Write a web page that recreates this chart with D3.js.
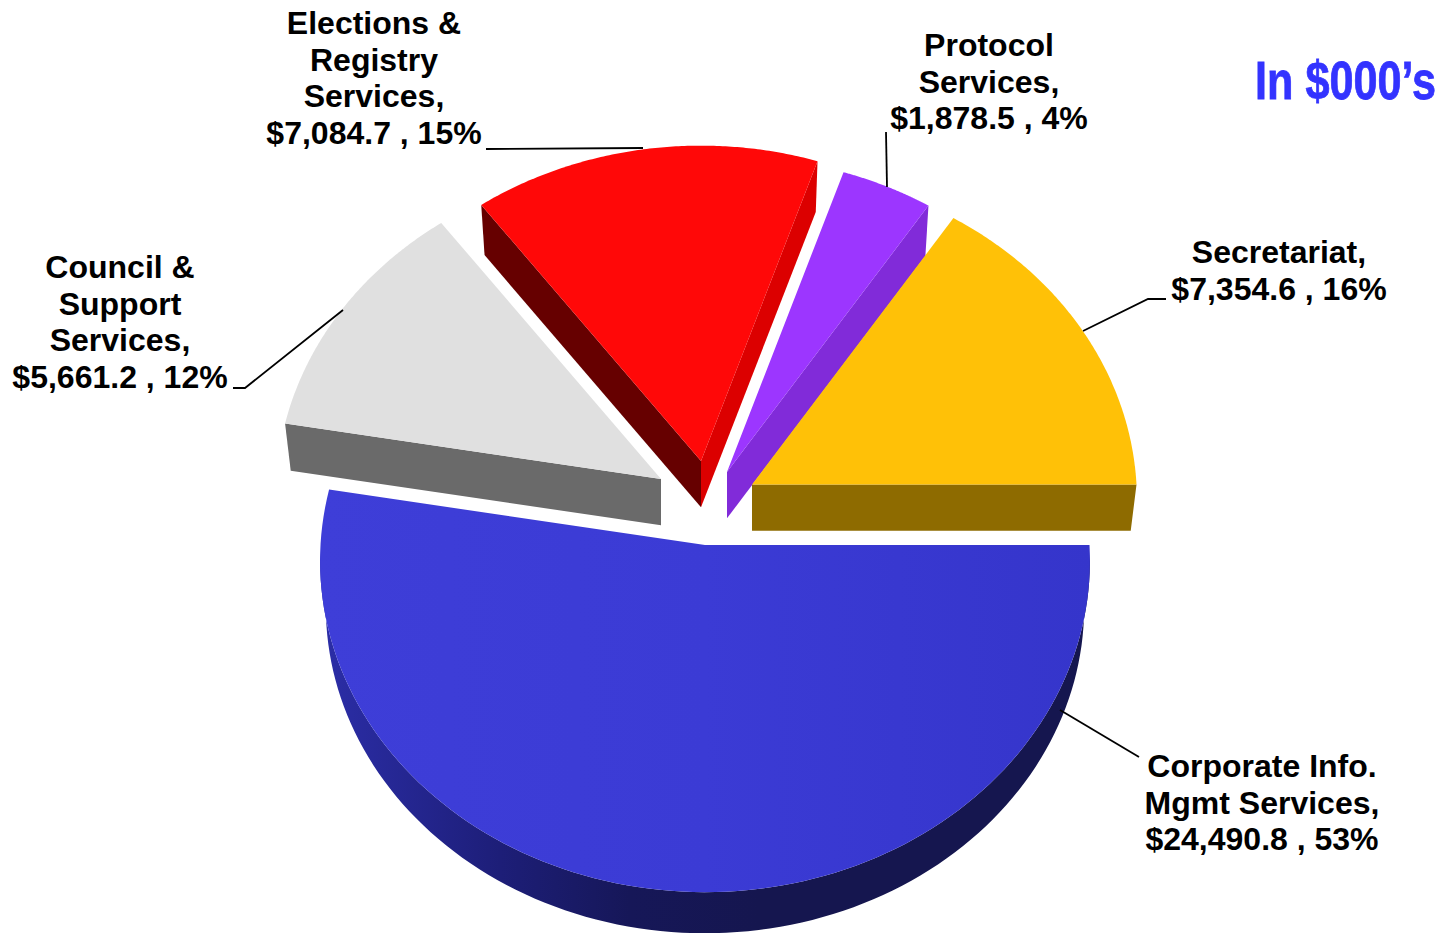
<!DOCTYPE html>
<html>
<head>
<meta charset="utf-8">
<title>Budget by service, in $000's</title>
<script src="https://cdnjs.cloudflare.com/ajax/libs/d3/7.8.5/d3.min.js"></script>
<style>
  html, body { margin: 0; padding: 0; background: #fff; overflow: hidden; }
  svg { display: block; }
  text { font-family: "Liberation Sans", Arial, sans-serif; font-weight: bold; }
</style>
</head>
<body>
<svg id="chart" width="1444" height="933"></svg>
<script>
// Budget per service, clockwise from three o'clock.
const categories = ["Corporate Info. Mgmt Services", "Council & Support Services",
  "Elections & Registry Services", "Protocol Services", "Secretariat"];
const amounts = [24490.8, 5661.2, 7084.7, 1878.5, 7354.6];
const labelLines = [
  ["Corporate Info.", "Mgmt Services,"],
  ["Council &", "Support", "Services,"],
  ["Elections &", "Registry", "Services,"],
  ["Protocol", "Services,"],
  ["Secretariat,"]
];
const unitNote = "In $000\u2019s";

// Exploded apex of each wedge on the page.
const apexes = [[705, 545], [661, 479], [701, 461], [727, 472], [752, 484.5]];
const topFills = ["url(#corpTop)", "#e0e0e0", "#ff0808", "#9c36ff", "#ffc107"];
const wallFills = ["url(#corpWall)", "#6a6a6a", "#dc0000", "#812bd9", "#8e6b00"];
// d3.pie runs clockwise, so a wedge's start is its counter-clockwise-most cut.
const startFaces = [null, "#6a6a6a", "#660000", null, null];
const endFaces = [null, null, "#dc0000", "#812bd9", "#8e6b00"];

// Label anchors: centre x, first baseline.
const labelAt = [[1262, 777], [120, 278], [374, 34], [989, 56], [1279, 263]];
const lineStep = 36.6;
const leaders = [
  [[1060, 710], [1139, 757]],
  [[233, 388], [245, 388], [343, 310]],
  [[486, 149], [643, 148]],
  [[886, 132], [887, 187]],
  [[1166, 299], [1148, 299], [1083, 331]]
];

// Perspective model of the tilted disc.
const radiusX = 384.5, radiusY = 330.5, perspective = 0.048;
const thickness = 46.3, baseShrink = 0.985;

const svg = d3.select("#chart");
const defs = svg.append("defs");

function linear(id, x1, x2, stops) {
  const g = defs.append("linearGradient").attr("id", id)
    .attr("gradientUnits", "userSpaceOnUse")
    .attr("x1", x1).attr("x2", x2).attr("y1", 0).attr("y2", 0);
  stops.forEach(([o, c]) => g.append("stop").attr("offset", o).attr("stop-color", c));
}
linear("corpTop", 319, 1091, [[0, "#3e3ed8"], [0.5, "#3b3bd5"], [1, "#3535cb"]]);
linear("corpWall", 327, 760, [[0, "#2b2da6"], [0.4, "#1d1e78"], [0.7, "#161758"], [1, "#15164f"]]);

const arcs = d3.pie().sort(null).value(d => d)
  .startAngle(Math.PI / 2).endAngle(Math.PI / 2 + 2 * Math.PI)(amounts);

// Map a polar position on a wedge to page coordinates.
function project(apex, angle, r, low) {
  const u = r * Math.sin(angle), v = r * Math.cos(angle);
  const w = 1 + perspective * v;
  const s = low ? baseShrink : 1;
  return [apex[0] + radiusX * s * u / w,
          apex[1] - radiusY * s * v / w + (low ? thickness : 0)];
}

const path = d3.line();
const arcSteps = (a0, a1) => d3.range(0, 121).map(i => a0 + (a1 - a0) * i / 120);

const slices = svg.append("g").selectAll("g").data(arcs).join("g");

slices.each(function (d, i) {
  const g = d3.select(this), apex = apexes[i];
  const angles = arcSteps(d.startAngle, d.endAngle);

  // Rim: only the stretch of the arc that faces the viewer.
  const frontAngles = angles.filter(a => Math.cos(a) <= 0);
  if (frontAngles.length > 1) {
    const rim = frontAngles.map(a => project(apex, a, 1, false))
      .concat(frontAngles.slice().reverse().map(a => project(apex, a, 1, true)));
    g.append("path").attr("d", path(rim) + "Z").attr("fill", wallFills[i]);
  }

  // Straight cut faces of the wedge.
  [[startFaces[i], d.startAngle], [endFaces[i], d.endAngle]].forEach(([fill, a]) => {
    if (!fill) return;
    const face = [project(apex, a, 0, false), project(apex, a, 1, false),
                  project(apex, a, 1, true), project(apex, a, 0, true)];
    g.append("path").attr("d", path(face) + "Z").attr("fill", fill);
  });

  // Top surface.
  const top = [apex].concat(angles.map(a => project(apex, a, 1, false)));
  g.append("path").attr("d", path(top) + "Z").attr("fill", topFills[i]);
});

// Leader lines.
svg.append("g").selectAll("path").data(leaders).join("path")
  .attr("d", d => path(d)).attr("fill", "none")
  .attr("stroke", "#000").attr("stroke-width", 1.8);

// Labels: name lines, then the amount and its share.
const total = d3.sum(amounts);
const money = d3.format(",.1f"), share = d3.format(".0%");
const labels = svg.append("g").selectAll("text").data(arcs).join("text")
  .attr("text-anchor", "middle").attr("font-size", 32).attr("fill", "#000");
labels.each(function (d, i) {
  const lines = labelLines[i].concat(`$${money(amounts[i])} , ${share(amounts[i] / total)}`);
  d3.select(this).selectAll("tspan").data(lines).join("tspan")
    .attr("x", labelAt[i][0])
    .attr("y", (_, k) => labelAt[i][1] + k * lineStep)
    .text(t => t);
});

// Unit note, condensed horizontally to sit in the top corner.
const note = svg.append("text").attr("font-size", 53.5).attr("fill", "#3333ff")
  .attr("stroke", "#3333ff").attr("stroke-width", 0.8).text(unitNote);
const squeeze = 181 / note.node().getComputedTextLength();
note.attr("transform", `translate(1255,99) scale(${squeeze},1)`);
</script>
</body>
</html>
